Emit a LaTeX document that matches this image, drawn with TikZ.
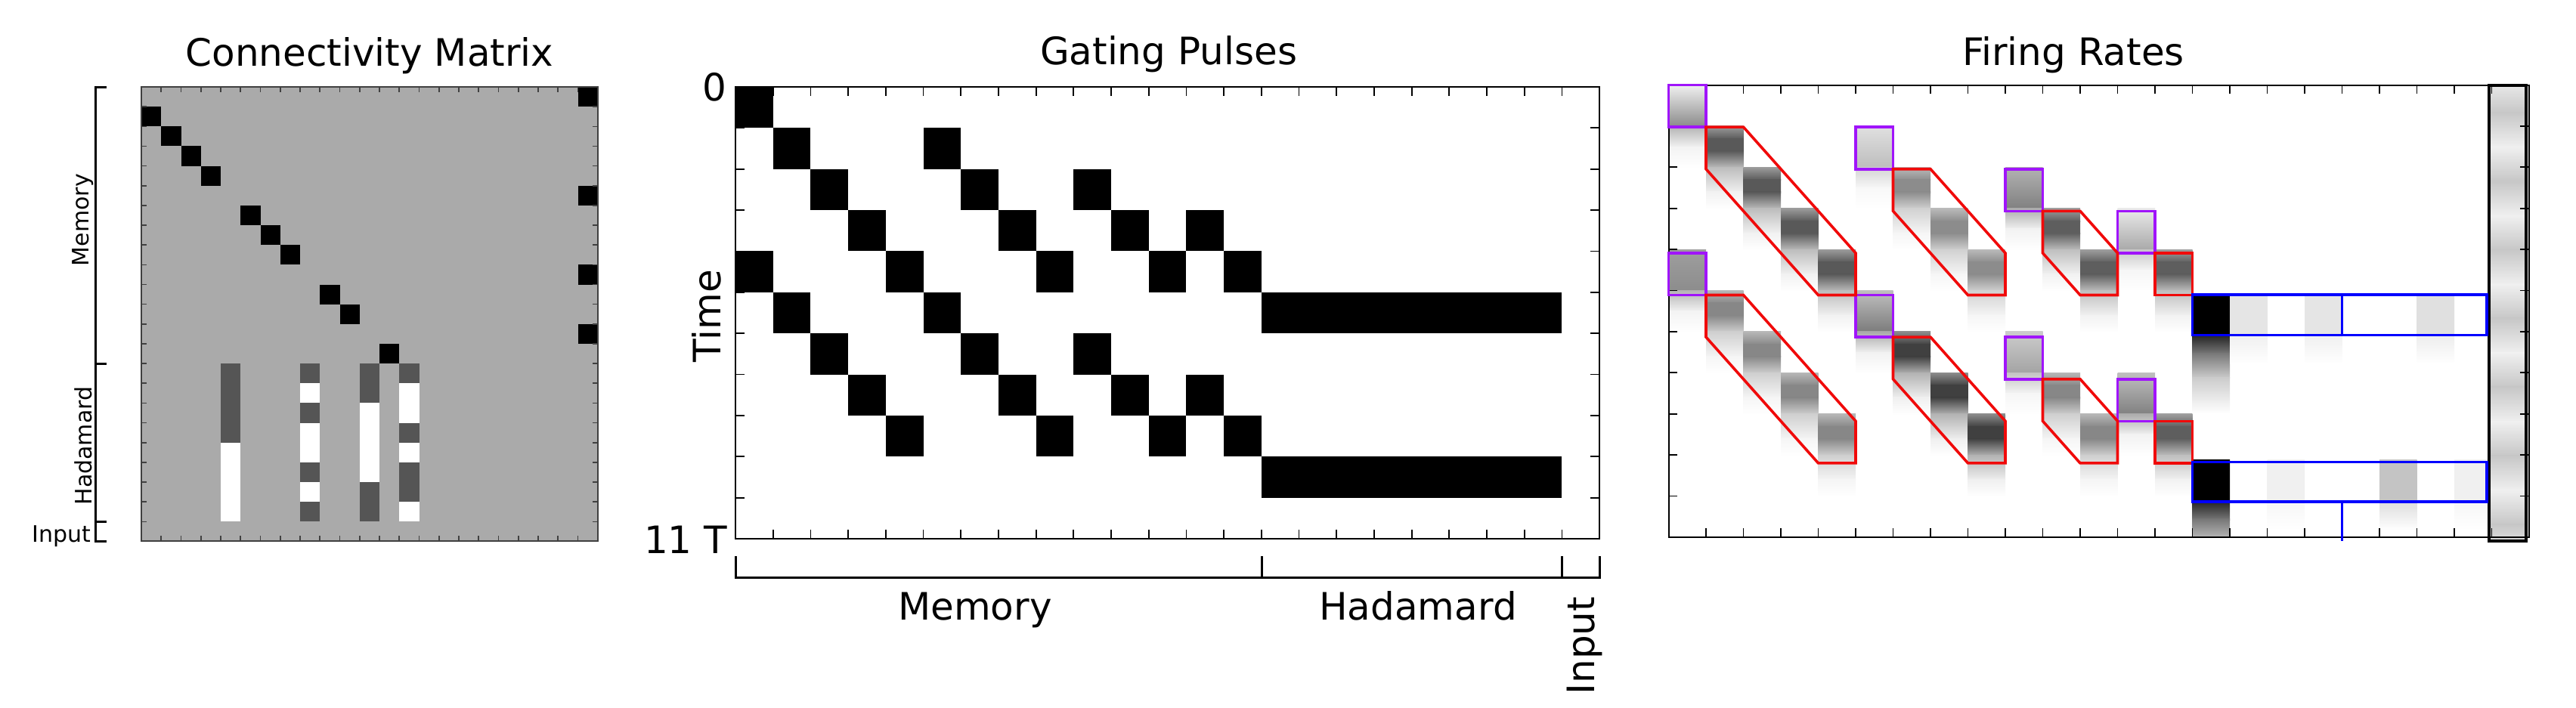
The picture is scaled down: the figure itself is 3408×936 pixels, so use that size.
\documentclass[tikz,border=0pt]{standalone}
\usepackage{fontspec}
\setmainfont{DejaVu Sans}
\usepackage{tikz}
\usetikzlibrary{calc,positioning}
\definecolor{cmgray}{RGB}{170,170,170}
\definecolor{cmdark}{RGB}{85,85,85}
\definecolor{inviolet}{RGB}{160,20,250}
\definecolor{memred}{RGB}{240,10,10}
\definecolor{hadblue}{RGB}{0,0,255}
\tikzstyle{title}=[
  font={\fontsize{12.5}{15}\selectfont},
  inner sep=0pt,
]
\tikzstyle{small}=[
  font={\fontsize{7.5}{9}\selectfont},
  inner sep=0pt,
]
\tikzstyle{cmframe}=[
  draw=black!75,
  line width=0.5pt,
]
\tikzstyle{cmtick}=[
  draw=black!75,
  line width=0.4pt,
]
\tikzstyle{axframe}=[
  draw=black,
  line width=0.5pt,
]
\tikzstyle{axtick}=[
  draw=black,
  line width=0.45pt,
]
\tikzstyle{axbracket}=[
  draw=black,
  line width=0.75pt,
]
\tikzstyle{inbox}=[
  draw=inviolet,
  line width=0.9pt,
]
\tikzstyle{membox}=[
  draw=memred,
  line width=0.9pt,
]
\tikzstyle{hadbox}=[
  draw=hadblue,
  line width=0.8pt,
]
\tikzset{
  x=0.25pt,
  y=-0.25pt,
}
% one shaded strip of a firing rate column
\newcommand{\frseg}[5]{\shade[top color=#4, bottom color=#5] (#1,#2) rectangle (#1+1,#3+0.02);}
% memory unit: column, row, peak
\newcommand{\frmem}[3]{%
  \pgfmathsetmacro{\frga}{0.6*#3}%
  \pgfmathsetmacro{\frgb}{0.4*#3}%
  \pgfmathsetmacro{\frgc}{0.08*#3}%
  \frseg{#1}{#2}{#2+0.3}{black!\frga}{black!#3}%
  \frseg{#1}{#2+0.3}{#2+0.6}{black!#3}{black!#3}%
  \frseg{#1}{#2+0.6}{#2+1}{black!#3}{black!\frgb}%
  \frseg{#1}{#2+1}{#2+1.6}{black!\frgb}{black!\frgc}%
  \frseg{#1}{#2+1.6}{#2+2}{black!\frgc}{white}}
% input unit: column, row, start, end
\newcommand{\frin}[4]{%
  \pgfmathsetmacro{\frga}{0.65*#4}%
  \pgfmathsetmacro{\frgb}{0.1*#4}%
  \frseg{#1}{#2}{#2+1}{black!#3}{black!#4}%
  \frseg{#1}{#2+1}{#2+1.5}{black!\frga}{black!\frgb}%
  \frseg{#1}{#2+1.5}{#2+2}{black!\frgb}{white}}
% hadamard units
\newcommand{\frblk}[2]{%
  \frseg{#1}{#2}{#2+1}{black}{black}%
  \frseg{#1}{#2+1}{#2+1.45}{black!87}{black!53}%
  \frseg{#1}{#2+1.45}{#2+2.05}{black!53}{black!20}%
  \frseg{#1}{#2+2.05}{#2+2.9}{black!20}{white}}
\newcommand{\frhad}[3]{%
  \pgfmathsetmacro{\frga}{0.6*#3}%
  \frseg{#1}{#2}{#2+1}{black!#3}{black!#3}%
  \frseg{#1}{#2+1}{#2+1.7}{black!\frga}{white}}
% red outline of a memory chain: column, row, length
\newcommand{\memchain}[3]{%
  \draw[membox] (#1,#2) -- (#1+1,#2) -- (#1+#3,#2+#3-1) -- (#1+#3,#2+#3)
    -- (#1+#3-1,#2+#3) -- (#1,#2+1) -- cycle;}

\begin{document}
\begin{tikzpicture}
  \useasboundingbox (0,0) rectangle (3408,936);
  \node [title, anchor=base] (CMTITLE) at (489,87) {Connectivity Matrix};
  \node [title, anchor=base] (GPTITLE) at (1546,85) {Gating Pulses};
  \node [title, anchor=base] (FRTITLE) at (2743,86) {Firing Rates};

  % connectivity matrix
  \begin{scope}[shift={(187,115)}, x=6.5625pt, y=-6.5375pt]
    \fill [cmgray] (0,0) rectangle (23,23);
    \foreach \cc/\rr in {22/0,0/1,1/2,2/3,3/4,22/5,5/6,6/7,7/8,22/9,9/10,10/11,22/12,12/13}
      \fill (\cc,\rr) rectangle ++(1,1);
    \foreach \cc/\rr/\hh in {4/14/4,8/14/1,8/16/1,8/19/1,8/21/1,11/14/2,11/20/2,13/14/1,13/17/1,13/19/2}
      \fill [cmdark] (\cc,\rr) rectangle ++(1,\hh);
    \foreach \cc/\rr/\hh in {4/18/4,8/15/1,8/17/2,8/20/1,11/16/4,13/15/2,13/18/1,13/21/1}
      \fill [white] (\cc,\rr) rectangle ++(1,\hh);
    \foreach \i in {1,...,22} {
      \draw [cmtick] (\i,0) -- (\i,0.27);
      \draw [cmtick] (\i,23) -- (\i,22.73);
      \draw [cmtick] (0,\i) -- (0.27,\i);
      \draw [cmtick] (23,\i) -- (22.73,\i);
    }
    \draw [cmframe] (0,0) rectangle (23,23);
  \end{scope}
  \draw [axbracket] (141,115) -- (126,115) -- (126,716) -- (141,716);
  \draw [axbracket] (126,481) -- (141,481);
  \draw [axbracket] (126,690) -- (141,690);
  \node [small, rotate=90] (CMMEM) at (110,291) {Memory};
  \node [small, rotate=90] (CMHAD) at (110,590) {Hadamard};
  \node [small, anchor=base east] (CMIN) at (121,717) {Input};

  % gating pulses
  \begin{scope}[shift={(973,115)}, x=12.425pt, y=-13.59pt]
    \foreach \cc/\rr in {0/0,1/1,5/1,2/2,6/2,9/2,3/3,7/3,10/3,12/3,0/4,4/4,8/4,11/4,13/4,
        1/5,5/5,2/6,6/6,9/6,3/7,7/7,10/7,12/7,4/8,8/8,11/8,13/8}
      \fill (\cc,\rr) rectangle ++(1,1);
    \fill (14,5) rectangle (22,6);
    \fill (14,9) rectangle (22,10);
    \foreach \i in {1,...,22} {
      \draw [axtick] (\i,0) -- (\i,0.22);
      \draw [axtick] (\i,11) -- (\i,10.78);
    }
    \foreach \i in {1,...,10} {
      \draw [axtick] (0,\i) -- (0.24,\i);
      \draw [axtick] (23,\i) -- (22.76,\i);
    }
    \draw [axframe] (0,0) rectangle (23,11);
  \end{scope}
  \node [title, anchor=base east] (GPZERO) at (962,133) {0};
  \node [title, anchor=base east] (GPEND) at (963,732) {11 T};
  \node [title, rotate=90] (GPTIME) at (935,418) {Time};
  \draw [axbracket] (973,736) -- (973,764) -- (2116,764) -- (2116,736);
  \draw [axbracket] (1669,764) -- (1669,736);
  \draw [axbracket] (2066,764) -- (2066,736);
  \node [title, anchor=base] (GPMEM) at (1290,820) {Memory};
  \node [title, anchor=base] (GPHAD) at (1876,820) {Hadamard};
  \node [title, rotate=90, anchor=east] (GPIN) at (2096,789) {Input};

  % firing rates
  \begin{scope}[shift={(2207.5,112.5)}, x=12.375pt, y=-13.6pt]
    \begin{scope}
      \clip (0,0) rectangle (23,11);
      \foreach \cc/\rr/\pk in {1/1/65,2/2/65,3/3/65,4/4/65,6/2/45,7/3/45,8/4/45,10/3/63,11/4/63,13/4/63,
          1/5/47,2/6/47,3/7/47,4/8/47,6/6/75,7/7/75,8/8/75,10/7/47,11/8/47,13/8/63}
        {\frmem{\cc}{\rr}{\pk}}
      \foreach \cc/\rr/\topv/\botv in {0/0/6/46,5/1/12/26,9/2/30/50,12/3/8/34,
          0/4/38/45,5/5/25/52,9/6/20/36,12/7/25/50}
        {\frin{\cc}{\rr}{\topv}{\botv}}
      \frblk{14}{5.07}
      \frblk{14}{9.11}
      \foreach \cc/\rr/\pk in {15/5.07/10,17/5.07/10,20/5.07/12,16/9.11/6,19/9.11/23,21/9.11/6}
        {\frhad{\cc}{\rr}{\pk}}
    \end{scope}
    \begin{scope}
      \clip (21.93,0) rectangle (22.92,11.09);
      \foreach \k in {0,...,6} {
        \shade [top color=black!6, bottom color=black!22] (21.93,0.67+1.67*\k-0.835) rectangle (22.92,0.67+1.67*\k);
        \shade [top color=black!22, bottom color=black!6] (21.93,0.67+1.67*\k-0.01) rectangle (22.92,0.67+1.67*\k+0.85);
      }
    \end{scope}
    \draw [black, line width=1pt] (21.93,0) rectangle (22.92,11.09);
    \foreach \i in {1,...,22} {
      \draw [axtick] (\i,0) -- (\i,0.22);
      \draw [axtick] (\i,11) -- (\i,10.78);
    }
    \foreach \i in {1,...,10} {
      \draw [axtick] (0,\i) -- (0.24,\i);
      \draw [axtick] (23,\i) -- (22.76,\i);
    }
    \draw [axframe] (0,0) rectangle (23,11);
  \end{scope}
  \begin{scope}[shift={(2207.5,112.5)}, x=12.375pt, y=-13.9pt]
    \foreach \cc/\rr in {0/0,5/1,9/2,12/3,0/4,5/5,9/6,12/7}
      \draw [inbox] (\cc,\rr) rectangle ++(1,1);
    \foreach \cc/\rr/\nn in {1/1/4,6/2/3,10/3/2,1/5/4,6/6/3,10/7/2}
      {\memchain{\cc}{\rr}{\nn}}
    \draw [membox] (13,4) rectangle ++(1,1);
    \draw [membox] (13,8) rectangle ++(1,1);
    \draw [hadbox] (14,4.99) rectangle (21.87,5.95);
    \draw [hadbox] (18,4.99) -- (18,5.95);
    \draw [hadbox] (14,8.97) rectangle (21.87,9.92);
    \draw [hadbox] (18,9.92) -- (18,10.86);
  \end{scope}
\end{tikzpicture}
\end{document}
